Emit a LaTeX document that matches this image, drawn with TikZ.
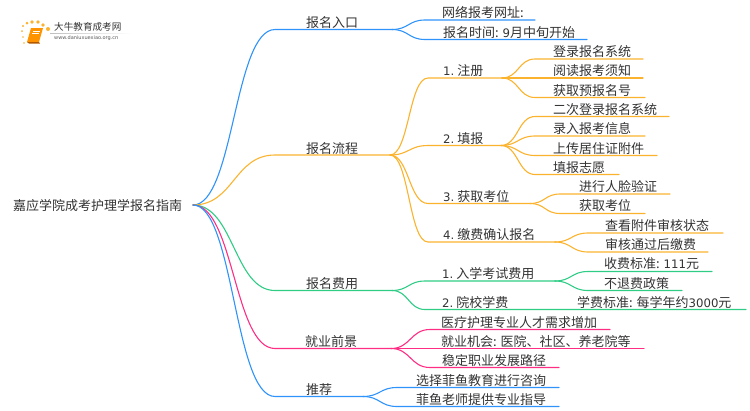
\documentclass[tikz,border=0pt]{standalone}
\usepackage{fontspec}
\setmainfont{Noto Sans CJK SC}
\newfontfamily\dvf{DejaVu Sans}
\newcommand\dv{\dvf\fontsize{11.7}{13}\selectfont}
\newcommand\num[1]{{\dv #1.}\hspace{2.9pt}}
\usetikzlibrary{calc}
\definecolor{cblue}{HTML}{2E93FA}
\definecolor{corange}{HTML}{FBB32E}
\definecolor{cgreen}{HTML}{2ECC85}
\definecolor{cpink}{HTML}{FF2E84}
\definecolor{ctext}{HTML}{333333}
\tikzset{
  lab/.style={anchor=west,inner sep=0pt,yshift=-0.7pt,text=ctext,font=\fontsize{13}{13}\selectfont},
  lnk/.style={line width=1.1pt,line cap=round},
  sc/.style={to path={let \p1=(\tikztostart),\p2=(\tikztotarget),\n1={0.5*(\x2-\x1)} in .. controls (\x1+\n1,\y1) and (\x2-\n1,\y2) .. (\tikztotarget)}},
}
% name, text x, text y, text, start x, line y, end x
\newcommand\mmitem[7]{%
  \node[lab] (#1) at (#2,#3) {#4};
  \coordinate (#1s) at (#5,#6);
  \coordinate (#1e) at (#7,#6);
}
\begin{document}
\begin{tikzpicture}[x=1pt,y=-1pt]
\useasboundingbox (0,0) rectangle (750,410);
% logo
\foreach \px/\py/\pr in {22/31/1,23/26/1.2,27/23/1.5,32/22/1.8,38/22/1.8,43/25/1.8,48/29/2,23/37/.9,24/43/.8}
  \fill[corange] (\px,\py) circle (\pr);
\fill[orange!85!yellow] (31,28) -- (43,28) -- (39,42) -- (27,42) -- cycle;
\fill[orange!70!black] (27,42) -- (29,43.5) -- (40,43.5) -- (39,42) -- cycle;
\draw[white,line width=.5pt] (33,31) -- (40,31) (32,33.5) -- (39,33.5);
\node[inner sep=0pt,anchor=west,text=ctext,font=\fontsize{9.6}{10}\selectfont] (logoa) at (54,27) {大牛教育成考网};
\node[inner sep=0pt,anchor=west,text=black!65,font=\dvf\fontsize{5}{5}\selectfont] (logob) at (54,38.5) {www.daniuxuexiao.org.cn};
\shade[left color=black!25,right color=white] (50,33) rectangle (132,33.5);
% root
\node[lab] (root) at (13,205) {嘉应学院成考护理学报名指南};
\coordinate (r) at (193,205);
% level 1
\mmitem{a}{306}{21.5}{报名入口}{275}{29.5}{392}
\mmitem{b}{306}{147.5}{报名流程}{275}{155}{390}
\mmitem{c}{306}{283}{报名费用}{275}{290.5}{392}
\mmitem{d}{305}{341}{就业前景}{275}{348.5}{391}
\mmitem{e}{306}{389}{推荐}{275}{396.5}{363}
% entrance
\mmitem{a1}{442}{12}{网络报考网址:}{425}{20}{535}
\mmitem{a2}{443}{32}{报名时间: {\dv 9}月中旬开始}{425}{39.5}{587}
% flow
\mmitem{b1}{443}{70}{\num{1}注册}{428}{78}{502}
\mmitem{b2}{443}{137.5}{\num{2}填报}{428}{145.5}{501}
\mmitem{b3}{443}{195.5}{\num{3}获取考位}{428}{203.5}{530}
\mmitem{b4}{443}{234}{\num{4}缴费确认报名}{428}{242}{555}
\mmitem{b11}{553}{51}{登录报名系统}{535}{59}{643}
\mmitem{b12}{553}{70}{阅读报考须知}{535}{78}{643}
\mmitem{b13}{553}{89.5}{获取预报名号}{535}{97.5}{645}
\mmitem{b21}{553}{109}{二次登录报名系统}{535}{116.5}{669}
\mmitem{b22}{553}{128}{录入报考信息}{535}{136}{645}
\mmitem{b23}{553}{147.5}{上传居住证附件}{535}{155.5}{657}
\mmitem{b24}{553}{167}{填报志愿}{535}{174.5}{619}
\mmitem{b31}{579}{186}{进行人脸验证}{560}{194}{670}
\mmitem{b32}{579}{205}{获取考位}{560}{213.5}{645}
\mmitem{b41}{605}{225}{查看附件审核状态}{588}{233}{723}
\mmitem{b42}{605}{244}{审核通过后缴费}{588}{252}{708}
% fees
\mmitem{c1}{442}{273}{\num{1}入学考试费用}{425}{281}{555}
\mmitem{c2}{442}{302}{\num{2}院校学费}{425}{309.5}{746}
\mmitem{c11}{604}{263}{收费标准: {\dv 111}元}{588}{271.5}{712}
\mmitem{c12}{604}{282.5}{不退费政策}{588}{290.5}{682}
\node[lab] (c21) at (577,302) {学费标准: 每学年约{\dv 3000}元};
% jobs
\mmitem{d1}{441}{321.5}{医疗护理专业人才需求增加}{430}{329.5}{610}
\mmitem{d2}{441}{341}{就业机会: 医院、社区、养老院等}{430}{348.5}{644}
\mmitem{d3}{442}{360}{稳定职业发展路径}{430}{367.5}{559}
% recommend
\mmitem{e1}{416}{380}{选择菲鱼教育进行咨询}{397}{387.5}{559}
\mmitem{e2}{416}{399}{菲鱼老师提供专业指导}{397}{406.5}{559}
% connectors
\draw[lnk,cblue] (r) to[sc] (as) -- (ae);
\draw[lnk,corange] (r) to[sc] (bs) -- (be);
\draw[lnk,cgreen] (r) to[sc] (cs) -- (ce);
\draw[lnk,cpink] (r) to[sc] (ds) -- (de);
\draw[lnk,cblue] (r) to[sc] (es) -- (ee);
\foreach \p/\k in {ae/a1,ae/a2,ee/e1,ee/e2}
  \draw[lnk,cblue] (\p) to[sc] (\k s) -- (\k e);
\foreach \p/\k in {be/b1,be/b2,be/b3,be/b4,b1e/b11,b1e/b12,b1e/b13,b2e/b21,b2e/b22,b2e/b23,b2e/b24,b3e/b31,b3e/b32,b4e/b41,b4e/b42}
  \draw[lnk,corange] (\p) to[sc] (\k s) -- (\k e);
\foreach \p/\k in {ce/c1,ce/c2,c1e/c11,c1e/c12}
  \draw[lnk,cgreen] (\p) to[sc] (\k s) -- (\k e);
\foreach \p/\k in {de/d1,de/d2,de/d3}
  \draw[lnk,cpink] (\p) to[sc] (\k s) -- (\k e);
\end{tikzpicture}
\end{document}
